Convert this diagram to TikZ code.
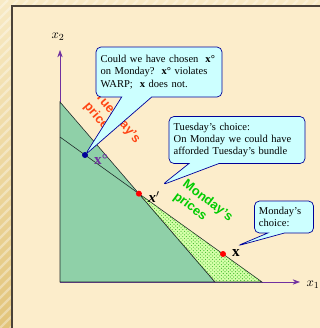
\documentclass[tikz,border=0pt]{standalone}
\usepackage{fontspec}
\setmainfont{Liberation Serif}
\setsansfont{Liberation Sans}
\usetikzlibrary{arrows.meta,shapes.callouts,patterns}
\definecolor{warpPanel}{RGB}{252,237,203}
\definecolor{warpOuterTop}{RGB}{248,234,196}
\definecolor{warpOuterLow}{RGB}{226,196,122}
\definecolor{warpFrame}{RGB}{74,66,56}
\definecolor{warpPurple}{RGB}{112,48,160}
\definecolor{warpDarkGreen}{RGB}{143,208,168}
\definecolor{warpLightGreen}{RGB}{214,255,170}
\definecolor{warpDots}{RGB}{60,185,40}
\definecolor{warpCyan}{RGB}{204,255,255}
\definecolor{warpNavy}{RGB}{0,0,153}
\definecolor{warpRed}{RGB}{255,0,0}
\definecolor{warpOrange}{RGB}{255,69,20}
\definecolor{warpGreen}{RGB}{0,204,0}
\definecolor{warpLine}{RGB}{30,40,40}

\begin{document}
\begin{tikzpicture}[
  x=0.03cm,y=-0.03cm,
  axis/.style={-{Stealth[length=2.2mm,width=1.6mm]},warpPurple,line width=0.6pt},
  budget/.style={draw=warpLine,line width=0.5pt},
  dot/.style={circle,inner sep=0pt,minimum size=0.18cm},
  note/.style={
    rectangle callout,
    draw=warpNavy,
    fill=warpCyan,
    line width=0.6pt,
    rounded corners=0.15cm,
    align=left,
    inner xsep=0.12cm,
    callout pointer width=0.9cm,
    font=\fontsize{9}{10.5}\selectfont
  },
  prices/.style={font=\sffamily\bfseries\fontsize{11}{13}\selectfont,align=left,inner sep=0pt},
  stripe/.style={white,opacity=0.35,line width=2pt}
]
  \useasboundingbox (0,0) rectangle (320,328);
  % backdrop and panel
  \shade[top color=warpOuterTop,bottom color=warpOuterLow] (0,0) rectangle (320,328);
  \begin{scope}
    \clip (0,0) rectangle (320,328);
    \foreach \k in {-330,-320,...,320}
      \draw[stripe] (\k,328) -- ++(328,-328);
  \end{scope}
  \fill[warpPanel] (12,6) rectangle (325,335);
  \draw[warpFrame,line width=1.3pt] (12,335) -- (12,6) -- (325,6);

  % budget lines
  \coordinate (origin) at (60,282);
  \coordinate (tueTop) at (60,102);
  \coordinate (tueEnd) at (215,282);
  \coordinate (monTop) at (60,137);
  \coordinate (monEnd) at (262,282);
  \coordinate (xcross) at (intersection of tueTop--tueEnd and monTop--monEnd);
  \coordinate (ytip) at (60,50);
  \coordinate (xtip) at (300,282);

  \draw[axis] (origin) -- (ytip);
  \draw[axis] (origin) -- (xtip);
  \node (ylabel) at (58,37) {\fontsize{11}{11}\selectfont$x_2$};
  \node (xlabel) at (313,285) {\fontsize{11}{11}\selectfont$x_1$};

  \filldraw[budget,fill=warpDarkGreen] (tueTop) -- (tueEnd) -- (origin) -- cycle;
  \filldraw[budget,fill=warpLightGreen] (xcross) -- (monEnd) -- (tueEnd) -- cycle;
  \fill[pattern=crosshatch dots,pattern color=warpDots] (xcross) -- (monEnd) -- (tueEnd) -- cycle;
  \draw[budget] (monTop) -- (xcross);

  % price labels
  \node[prices,text=warpOrange,rotate=-49] (tuePrices) at (112,123) {Tuesday's\\prices};
  \node[prices,text=warpGreen,rotate=-37] (monPrices) at (203,207) {Monday's\\prices};

  % bundles
  \node[dot,fill=warpNavy] (xo) at (85,155) {};
  \node[dot,fill=warpRed] (xp) at (xcross) {};
  \node[dot,fill=warpRed] (x) at (223,254) {};
  \node[text=warpPurple,font=\bfseries\fontsize{13}{13}\selectfont] (xoLabel) at (101,159) {x°};
  \node[font=\bfseries\itshape\fontsize{13}{13}\selectfont] (xpLabel) at (154,197) {x$'$};
  \node[font=\bfseries\fontsize{13}{13}\selectfont] (xLabel) at (236,253) {x};

  % notes
  \node[note,text width=3.5cm,minimum width=3.78cm,minimum height=1.5cm,
    callout absolute pointer={(xo.center)}] (askNote) at (159,72)
    {Could we have chosen~~\textbf{x°}\\on Monday?~~\textbf{x°} violates\\WARP;~~\textbf{x} does not.};
  \node[note,text width=3.8cm,minimum width=4.08cm,minimum height=1.41cm,
    callout absolute pointer={(162,185)}] (tueNote) at (237,140)
    {Tuesday's choice:\\On Monday we could have\\afforded Tuesday's bundle};
  \node[note,text width=1.5cm,minimum width=1.77cm,minimum height=0.96cm,
    callout pointer width=0.5cm,
    callout absolute pointer={(237,246)}] (monNote) at (284,217)
    {Monday's\\choice:};
\end{tikzpicture}
\end{document}
